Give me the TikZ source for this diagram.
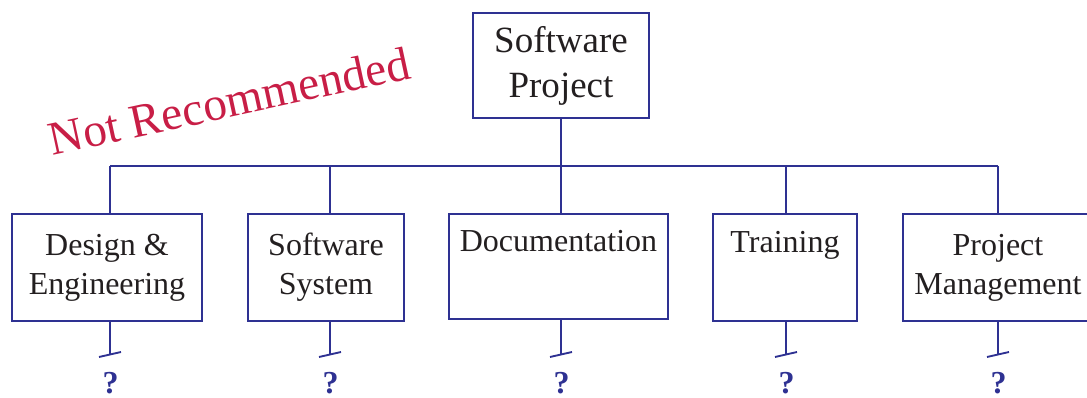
\documentclass[tikz,border=0pt]{standalone}
\usepackage{fontspec}
\setmainfont{Liberation Serif}
\usetikzlibrary{positioning}
\definecolor{wbsblue}{RGB}{46,49,146}
\definecolor{wbsred}{RGB}{200,30,70}
\definecolor{wbsink}{RGB}{35,31,32}
\tikzset{
  wbsbox/.style={draw=wbsblue, line width=2.1pt, align=center, text=wbsink, inner sep=0pt,
    font=\fontsize{24}{29.25}\selectfont},
  wbsline/.style={draw=wbsblue, line width=2pt},
  qmark/.style={text=wbsblue, inner sep=0pt, font=\fontsize{24}{24}\selectfont\bfseries}
}

\begin{document}
\begin{tikzpicture}[x=0.75pt,y=0.75pt,yscale=-1,xscale=1]
\useasboundingbox (0,0) rectangle (1087,398);

%Shape: Rectangle [top]
\node (top) [wbsbox, minimum width=132pt, minimum height=78.75pt,
  font=\fontsize{27.75}{33.75}\selectfont] at (561,65.5) {Software\\Project};
%Shape: Rectangle [level 1]
\node (dsn) [wbsbox, minimum width=142.5pt, minimum height=80.25pt] at (107,267.5) {Design \&\\Engineering};
\node (sys) [wbsbox, minimum width=117pt, minimum height=80.25pt] at (326,267.5) {Software\\System};
\node (doc) [wbsbox, minimum width=164.25pt, minimum height=78.75pt] at (558.5,266.5) {Documentation\\\strut};
\node (trn) [wbsbox, minimum width=108pt, minimum height=80.25pt] at (785,267.5) {Training\\\strut};
\node (pm) [wbsbox, minimum width=142.5pt, minimum height=80.25pt] at (998,267.5) {Project\\Management};

%Straight Lines [bus]
\coordinate (bus1) at (110,166);
\coordinate (bus2) at (330,166);
\coordinate (bus3) at (561,166);
\coordinate (bus4) at (786,166);
\coordinate (bus5) at (998,166);
\draw [wbsline] (top.south) -- (bus3);
\draw [wbsline] (bus1) -- (bus5);
\draw [wbsline] (bus1) -- (bus1 |- dsn.north);
\draw [wbsline] (bus2) -- (bus2 |- sys.north);
\draw [wbsline] (bus3) -- (bus3 |- doc.north);
\draw [wbsline] (bus4) -- (bus4 |- trn.north);
\draw [wbsline] (bus5) -- (bus5 |- pm.north);

%Straight Lines [open ends]
\coordinate (tk1) at (110,354.5);
\coordinate (tk2) at (330,354.5);
\coordinate (tk3) at (561,354.5);
\coordinate (tk4) at (786,354.5);
\coordinate (tk5) at (998,354.5);
\draw [wbsline] (tk1 |- dsn.south) -- (tk1);
\draw [wbsline] (tk2 |- sys.south) -- (tk2);
\draw [wbsline] (tk3 |- doc.south) -- (tk3);
\draw [wbsline] (tk4 |- trn.south) -- (tk4);
\draw [wbsline] (tk5 |- pm.south) -- (tk5);
\draw [wbsline, line width=1.4pt] (tk1) ++(-11,2.5) -- ++(22,-5);
\draw [wbsline, line width=1.4pt] (tk2) ++(-11,2.5) -- ++(22,-5);
\draw [wbsline, line width=1.4pt] (tk3) ++(-11,2.5) -- ++(22,-5);
\draw [wbsline, line width=1.4pt] (tk4) ++(-11,2.5) -- ++(22,-5);
\draw [wbsline, line width=1.4pt] (tk5) ++(-11,2.5) -- ++(22,-5);

% Text Node
\node (q1) [qmark] at (110.5,383) {?};
\node (q2) [qmark] at (330.5,383) {?};
\node (q3) [qmark] at (561.5,383) {?};
\node (q4) [qmark] at (786.5,383) {?};
\node (q5) [qmark] at (998.5,383) {?};
% Text Node
\node (warn) [text=wbsred, inner sep=0pt, rotate=12.2,
  font=\fontsize{35.6}{40}\selectfont] at (229,101) {Not Recommended};

\end{tikzpicture}
\end{document}
